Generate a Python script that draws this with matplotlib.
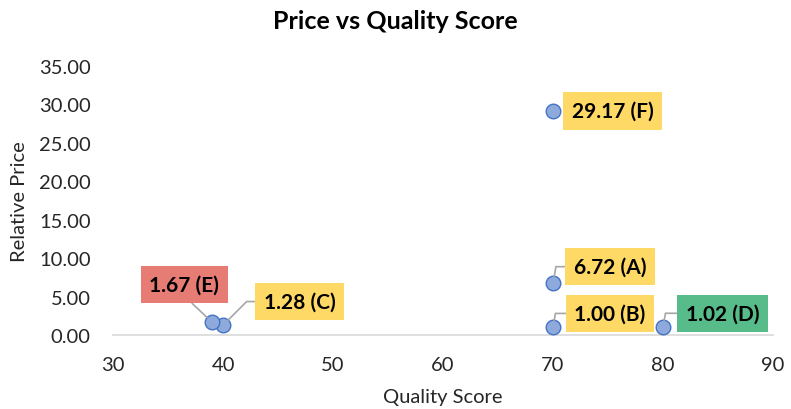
import matplotlib
matplotlib.use("Agg")
import matplotlib.pyplot as plt

labels = ["A", "B", "C", "D", "E", "F"]
quality = [70, 70, 40, 80, 39, 70]
price = [6.72, 1.00, 1.28, 1.02, 1.67, 29.17]
box_colors = ["#FFD966", "#FFD966", "#FFD966", "#57BB8A", "#E67C73", "#FFD966"]
# label offsets in points (text center relative to point)
offsets = [(41, 12), (41, 10), (55, 17), (43, 10), (-20, 27), (43, 0)]
relpos = [(0, 0.5), (0, 0.5), (0, 0.5), (0, 0.5), (0.48, 0), (0, 0.5)]
connections = ["angle,angleA=180,angleB=80,rad=0", "angle,angleA=180,angleB=80,rad=0",
               "angle,angleA=180,angleB=45,rad=0", "angle,angleA=180,angleB=80,rad=0",
               "arc3,rad=0", None]

plt.rcParams['font.family'] = ['Lato', 'DejaVu Sans']

fig = plt.figure(figsize=(7.91, 4.10), dpi=100)
ax = fig.add_axes([0.1429, 0.1805, 0.8343, 0.6561])

ax.scatter(quality, price, s=110, color="#8EA9DB", edgecolor="#4472C4",
           linewidth=1.0, zorder=3)

for q, p, lab, c, off, rp, conn in zip(quality, price, labels, box_colors,
                                        offsets, relpos, connections):
    arrow = None
    if conn is not None:
        arrow = dict(arrowstyle='-', color="#A6A6A6", lw=1.2, shrinkA=0,
                     shrinkB=5, relpos=rp, connectionstyle=conn)
    ax.annotate(f"{p:.2f} ({lab})", xy=(q, p), xytext=off,
                textcoords='offset points', ha='center', va='center',
                fontsize=15, fontweight='bold', color='black',
                bbox=dict(boxstyle='square,pad=0.42', fc=c, ec='none'),
                arrowprops=arrow, zorder=4)

ax.set_xlim(30, 90)
ax.set_ylim(0, 35)
ax.set_xticks(range(30, 91, 10))
ax.set_yticks(range(0, 36, 5))
ax.set_yticklabels([f"{v:.2f}" for v in range(0, 36, 5)])
for s in ["top", "right", "left"]:
    ax.spines[s].set_visible(False)
ax.spines["bottom"].set_color("#D9D9D9")
ax.spines["bottom"].set_linewidth(1.2)
ax.tick_params(axis='both', length=0, labelsize=14.5, colors="#262626")
ax.tick_params(axis='y', pad=16)
ax.tick_params(axis='x', pad=15)
ax.set_xlabel("Quality Score", fontsize=14.5, color="#262626", labelpad=11)
ax.set_ylabel("Relative Price", fontsize=14.5, color="#262626", labelpad=8)
fig.suptitle("Price vs Quality Score", fontsize=18, fontweight='bold',
             y=0.975, color="black")

fig.savefig("out.png", dpi=100)
